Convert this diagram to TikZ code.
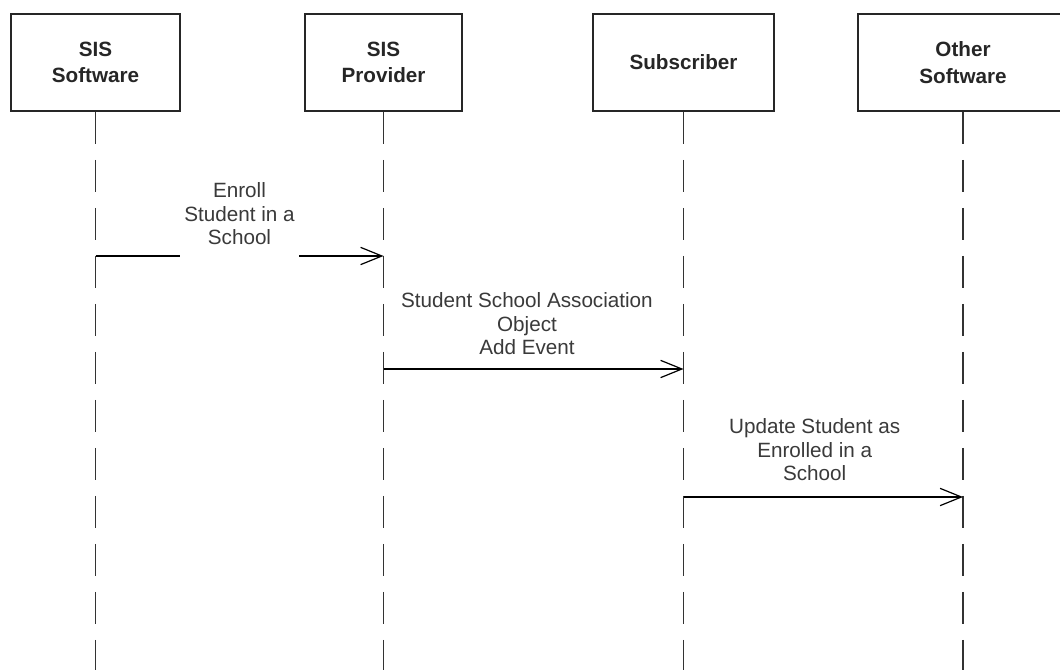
\documentclass[tikz,border=0pt]{standalone}
\usepackage{fontspec}
\setmainfont{Liberation Sans}
\usetikzlibrary{positioning,arrows.meta}
\definecolor{ink}{HTML}{3A3A3A}

\begin{document}
\begin{tikzpicture}[x=0.75pt,y=-0.75pt,>={Straight Barb[length=16pt,width=13pt]},
  actor/.style={draw=black!85,line width=1.2pt,minimum height=72.75pt,align=center,
    font=\fontsize{15.5}{20}\selectfont\bfseries,text=black!85},
  life/.style={draw=black!80,line width=1.3pt,dash pattern=on 24pt off 12pt},
  msg/.style={->,line width=0.9pt},
  lbl/.style={fill=white,inner xsep=3pt,inner ysep=9pt,align=center,anchor=south,
    font=\fontsize{15.5}{17.6}\selectfont,text=ink}]
\useasboundingbox (0,0) rectangle (1060,670);
\clip (0,0) rectangle (1060,670);
% participants
\node[actor,minimum width=126.75pt] (sissw) at (95.5,62.5) {SIS\\Software};
\node[actor,minimum width=117.75pt] (sisprov) at (383.5,62.5) {SIS\\Provider};
\node[actor,minimum width=135.75pt] (sub) at (683.5,62.5) {Subscriber};
\node[actor,minimum width=157.5pt] (other) at (963,62.5) {Other\\Software};
% lifelines
\coordinate (bottom) at (0,680);
\foreach \a in {sissw,sisprov,sub,other}
  \draw[life] (\a.south) -- (\a.south |- bottom);
% messages
\path (sissw.south |- 0,256) coordinate (m1s) (sisprov.south |- 0,256) coordinate (m1e);
\path (sisprov.south |- 0,369) coordinate (m2s) (sub.south |- 0,369) coordinate (m2e);
\path (sub.south |- 0,497) coordinate (m3s) (other.south |- 0,497) coordinate (m3e);
\draw[msg] (m1s) -- node[lbl,yshift=-1.1pt] {Enroll\\Student in a\\School} (m1e);
\draw[msg] (m2s) -- node[lbl,yshift=1.1pt,xshift=-4.9pt] {Student School Association\\Object\\Add Event} (m2e);
\draw[msg] (m3s) -- node[lbl,yshift=2.6pt,xshift=-6.4pt] {Update Student as\\Enrolled in a\\School} (m3e);
\end{tikzpicture}
\end{document}
